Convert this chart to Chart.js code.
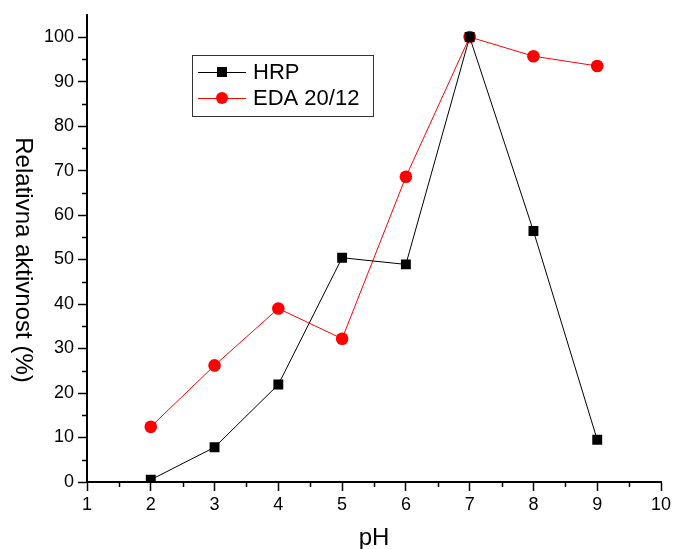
<!DOCTYPE html>
<html>
<head>
<meta charset="utf-8">
<script src="https://cdn.jsdelivr.net/npm/chart.js@4/dist/chart.umd.min.js"></script>
<style>
  html, body { margin: 0; padding: 0; background: #fff; }
  #wrap { width: 675px; height: 549px; }
</style>
</head>
<body>
<div id="wrap"><canvas id="phChart" width="675" height="549"></canvas></div>
<script>
// pH values and relative activity (%)
const phValues = [2, 3, 4, 5, 6, 7, 8, 9];
const hrpActivity = [0.5, 7.8, 21.9, 50.4, 48.9, 100, 56.4, 9.5];
const edaActivity = [12.4, 26.2, 39.0, 32.2, 68.6, 100, 95.7, 93.5];
const seriesNames = ["HRP", "EDA 20/12"];
const xTicks = [1, 2, 3, 4, 5, 6, 7, 8, 9, 10];
const yTicks = [0, 10, 20, 30, 40, 50, 60, 70, 80, 90, 100];
const yTitle = "Relativna aktivnost (%)";

const FONT = 'Arial, "Liberation Sans", sans-serif';

const toPoints = (ys) => phValues.map((x, i) => ({ x: x, y: ys[i] }));

// minor ticks, y title and legend box drawn by hand (no minor ticks in Chart.js)
const extrasPlugin = {
  id: "extras",
  afterDraw(chart) {
    const ctx = chart.ctx;
    const xs = chart.scales.x;
    const ys = chart.scales.y;
    ctx.save();
    ctx.strokeStyle = "#000";
    ctx.lineWidth = 1.5;
    ctx.beginPath();
    for (let v = 1.5; v < 10; v += 1) {
      const px = Math.round(xs.getPixelForValue(v)) + 0.5;
      ctx.moveTo(px, xs.top);
      ctx.lineTo(px, xs.top + 5);
    }
    for (let v = 5; v < 105; v += 10) {
      const py = Math.round(ys.getPixelForValue(v)) + 0.5;
      ctx.moveTo(ys.right, py);
      ctx.lineTo(ys.right - 5, py);
    }
    ctx.stroke();

    // y axis title, sits a bit below the axis centre in the original
    ctx.save();
    ctx.translate(23, 260);
    ctx.rotate(Math.PI / 2);
    ctx.fillStyle = "#000";
    ctx.font = "24px " + FONT;
    ctx.textAlign = "center";
    ctx.textBaseline = "middle";
    ctx.fillText(yTitle, 0, 0);
    ctx.restore();

    // legend
    const bx = 192, by = 55, bw = 181, bh = 61;
    ctx.lineWidth = 1;
    ctx.strokeStyle = "#333";
    ctx.strokeRect(bx + 0.5, by + 0.5, bw, bh);
    const rows = [
      { y: 72, color: "#000", style: "rect" },
      { y: 98, color: "#ff0000", style: "circle" }
    ];
    rows.forEach((r, i) => {
      ctx.strokeStyle = r.color;
      ctx.lineWidth = 1;
      ctx.beginPath();
      ctx.moveTo(198, r.y + 0.5);
      ctx.lineTo(246, r.y + 0.5);
      ctx.stroke();
      ctx.fillStyle = r.color;
      if (r.style === "rect") {
        ctx.fillRect(217, r.y - 5, 10, 10);
      } else {
        ctx.beginPath();
        ctx.arc(222, r.y, 6, 0, Math.PI * 2);
        ctx.fill();
      }
      ctx.fillStyle = "#000";
      ctx.font = "22px " + FONT;
      ctx.textBaseline = "middle";
      ctx.textAlign = "left";
      ctx.fillText(seriesNames[i], 253, r.y + 1);
    });
    ctx.restore();
  }
};

const ctx = document.getElementById("phChart").getContext("2d");

new Chart(ctx, {
  type: "line",
  data: {
    datasets: [
      {
        label: seriesNames[0],
        data: toPoints(hrpActivity),
        borderColor: "#000",
        backgroundColor: "#000",
        borderWidth: 1,
        pointStyle: "rect",
        pointRadius: 7,
        pointBorderWidth: 0,
        tension: 0
      },
      {
        label: seriesNames[1],
        data: toPoints(edaActivity),
        borderColor: "#ff0000",
        backgroundColor: "#ff0000",
        borderWidth: 1,
        pointStyle: "circle",
        pointRadius: 6.3,
        pointBorderWidth: 0,
        tension: 0
      }
    ]
  },
  options: {
    responsive: false,
    animation: false,
    layout: { padding: { top: 14, right: 14, left: 0, bottom: 0 } },
    plugins: {
      legend: { display: false },
      tooltip: { enabled: false }
    },
    scales: {
      x: {
        type: "linear",
        min: 1,
        max: 10,
        afterBuildTicks: (s) => { s.ticks = xTicks.map(v => ({ value: v })); },
        afterFit: (s) => { s.height = 67; },
        grid: { drawOnChartArea: false, drawTicks: true, tickLength: 9, tickWidth: 1.5, tickColor: "#000" },
        border: { color: "#000", width: 2 },
        ticks: { color: "#000", font: { family: FONT, size: 18 }, padding: 3, maxRotation: 0 },
        title: { display: true, text: "pH", color: "#000", font: { family: FONT, size: 24, lineHeight: 0.85 }, padding: 0 }
      },
      y: {
        type: "linear",
        min: 0,
        max: 105,
        afterBuildTicks: (s) => { s.ticks = yTicks.map(v => ({ value: v })); },
        afterFit: (s) => { s.width = 87; },
        grid: { drawOnChartArea: false, drawTicks: true, tickLength: 9, tickWidth: 1.5, tickColor: "#000" },
        border: { color: "#000", width: 2 },
        ticks: { color: "#000", font: { family: FONT, size: 18 }, padding: 4 }
      }
    }
  },
  plugins: [extrasPlugin]
});
</script>
</body>
</html>
